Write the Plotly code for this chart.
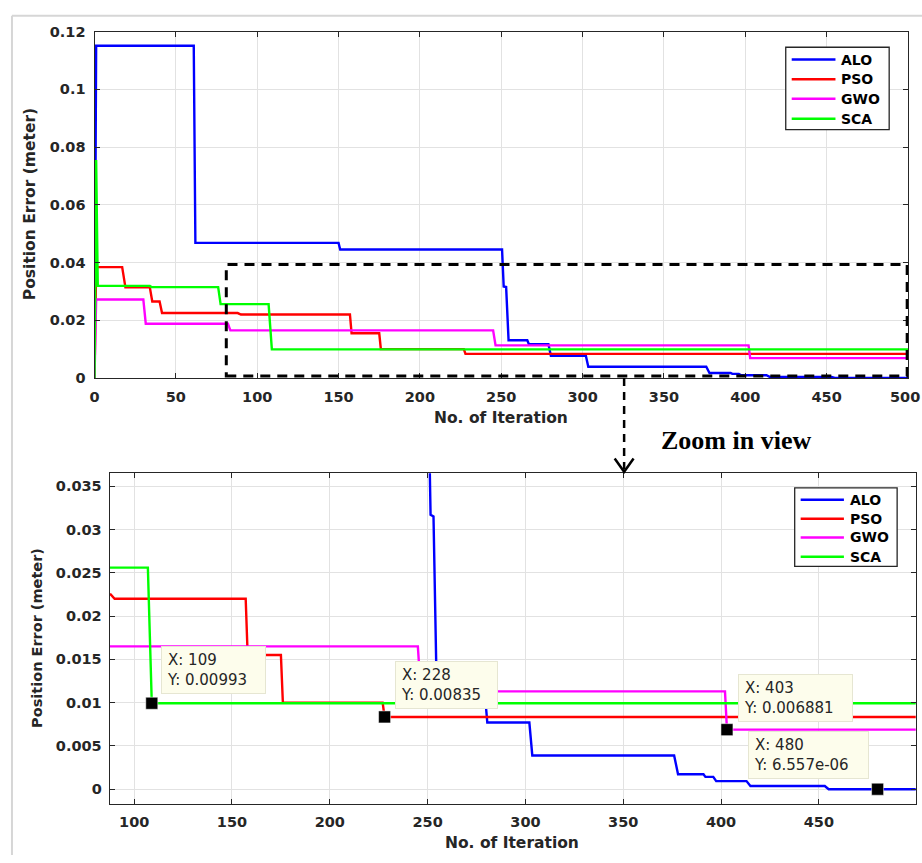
import plotly.graph_objects as go

# ---------------- data (vertices) ----------------
alo_x = [0, 1, 61, 62, 150, 151, 250.5, 251.5, 253, 254.5, 266, 267, 279, 280.5,
         302, 303.5, 376, 378, 391, 392, 396, 397.5, 413, 415, 453, 455, 500]
alo_y = [0, 0.1151, 0.1151, 0.0468, 0.0468, 0.0445, 0.0445, 0.0317, 0.0315, 0.0131,
         0.0131, 0.0117, 0.0117, 0.0077, 0.0077, 0.0039, 0.0039, 0.00174, 0.00174,
         0.00143, 0.00143, 0.00094, 0.00094, 0.00038, 0.00038, 6.557e-06, 6.557e-06]

pso_x = [0, 1, 17, 19, 34, 35.5, 40, 41.5, 88, 90, 157, 158, 175, 176, 227, 228, 500]
pso_y = [0, 0.0384, 0.0384, 0.0314, 0.0314, 0.0265, 0.0265, 0.0225, 0.0225, 0.0220,
         0.0220, 0.0155, 0.0155, 0.0100, 0.0100, 0.00835, 0.00835]

gwo_x = [0, 1, 30, 31.5, 82, 83.5, 245, 246.5, 402, 403, 500]
gwo_y = [0, 0.0272, 0.0272, 0.0188, 0.0188, 0.0165, 0.0165, 0.0113, 0.0113,
         0.006881, 0.006881]

sca_x = [0, 1, 2, 34, 35, 76, 77.5, 107, 109, 500]
sca_y = [0, 0.0755, 0.0319, 0.0319, 0.0315, 0.0315, 0.0256, 0.0256, 0.00993, 0.00993]

series_names = ["ALO", "PSO", "GWO", "SCA"]
series_x = [alo_x, pso_x, gwo_x, sca_x]
series_y = [alo_y, pso_y, gwo_y, sca_y]
series_colors = ["#0000FF", "#FF0000", "#FF00FF", "#00FF00"]

# tick values of the upper chart's x axis
top_xticks = [0, 50, 100, 150, 200, 250, 300, 350, 400, 450, 500]

# data tips shown in the zoomed view
tip_x = [109, 228, 403, 480]
tip_y = [0.00993, 0.00835, 0.006881, 6.557e-06]

# zoomed region marked on the upper chart
zoom_x = [81, 499.5]
zoom_y = [0.0007, 0.0393]

# ---------------- layout helpers (pixel -> paper) ----------------
W, H = 922, 863
def PX(x):
    return x / W
def PY(y):
    return 1 - y / H

TXT = "#262626"
TICKFONT = dict(family="DejaVu Sans", size=14.5, color=TXT, weight="bold")
TITLEFONT = dict(family="DejaVu Sans", size=15.5, color=TXT, weight="bold")
LEGFONT = dict(family="DejaVu Sans", size=14, color="black", weight="bold")

fig = go.Figure()

for i in range(4):
    fig.add_trace(go.Scatter(
        x=series_x[i], y=series_y[i], mode="lines", name=series_names[i],
        line=dict(color=series_colors[i], width=2.4), showlegend=False,
        xaxis="x", yaxis="y", hoverinfo="skip"))
for i in range(4):
    fig.add_trace(go.Scatter(
        x=series_x[i], y=series_y[i], mode="lines", name=series_names[i],
        line=dict(color=series_colors[i], width=2.4), showlegend=False,
        xaxis="x2", yaxis="y2", hoverinfo="skip"))

fig.add_trace(go.Scatter(
    x=tip_x, y=tip_y, mode="markers", showlegend=False,
    marker=dict(symbol="square", size=12, color="black",
                line=dict(color="white", width=0.5)),
    xaxis="x2", yaxis="y2", hoverinfo="skip"))

axis_common = dict(
    showline=True, linecolor=TXT, linewidth=1.2, mirror="ticks",
    ticks="inside", ticklen=5, tickcolor=TXT, tickwidth=1,
    showgrid=True, gridcolor="#e2e2e2", gridwidth=1,
    zeroline=False, tickfont=TICKFONT,
)

# the last label ("500") sits on the page edge; it is drawn separately so it stays inside
top_xtext = [str(v) for v in top_xticks[:-1]] + [""]

fig.update_layout(
    width=W, height=H,
    margin=dict(l=0, r=0, t=0, b=0),
    paper_bgcolor="white", plot_bgcolor="white",
    showlegend=False,
    xaxis=dict(domain=[PX(90), PX(908)], anchor="y", range=[0, 500.05],
               tickmode="array", tickvals=top_xticks, ticktext=top_xtext,
               ticklabelstandoff=5, **axis_common),
    yaxis=dict(domain=[PY(377), PY(24)], anchor="x", range=[0, 0.12001],
               tick0=0, dtick=0.02, ticklabelstandoff=5, **axis_common),
    xaxis2=dict(domain=[PX(105.3), PX(915.7)], anchor="y2", range=[87.5, 499.5],
                tick0=0, dtick=50, ticklabelstandoff=5, **axis_common),
    yaxis2=dict(domain=[PY(811), PY(474)], anchor="x2", range=[-0.0017, 0.0365],
                tick0=0, dtick=0.005, ticklabelstandoff=4, **axis_common),
)

shapes = []
ann = []

# outer light frame
shapes.append(dict(type="line", xref="paper", yref="paper", x0=PX(7), x1=PX(7),
                   y0=PY(8), y1=PY(863), line=dict(color="#d6d6d6", width=2)))
shapes.append(dict(type="line", xref="paper", yref="paper", x0=PX(7), x1=PX(922),
                   y0=PY(8), y1=PY(8), line=dict(color="#d6d6d6", width=2)))
# dashed zoom rectangle
shapes.append(dict(type="rect", xref="x", yref="y", x0=zoom_x[0], x1=zoom_x[1],
                   y0=zoom_y[0], y1=zoom_y[1],
                   line=dict(color="black", width=3, dash="10px,7px")))
# dashed arrow from the rectangle down to the zoomed chart
shapes.append(dict(type="line", xref="paper", yref="paper", x0=PX(622.5), x1=PX(622.5),
                   y0=PY(377), y1=PY(470),
                   line=dict(color="black", width=2.5, dash="8px,6px")))
shapes.append(dict(type="path", xref="paper", yref="paper",
                   path=f"M {PX(613)},{PY(459)} L {PX(622.5)},{PY(472.5)} L {PX(632)},{PY(459)}",
                   line=dict(color="black", width=2.5)))

# legends (box left/top/right/bottom, line x0/x1, text x, row y positions), in px
legend_specs = [
    dict(box=(785, 40, 889, 124), line=(791, 835), tx=839, rows=(52.5, 72.5, 92.5, 112.8)),
    dict(box=(794, 489, 897, 569), line=(800, 843.5), tx=847.5, rows=(501, 520.5, 539.5, 559)),
]
for spec in legend_specs:
    bx0, by0, bx1, by1 = spec["box"]
    shapes.append(dict(type="rect", xref="paper", yref="paper",
                       x0=PX(bx0), x1=PX(bx1), y0=PY(by1), y1=PY(by0),
                       fillcolor="white", line=dict(color=TXT, width=1.3)))
    for name, col, ry in zip(series_names, series_colors, spec["rows"]):
        shapes.append(dict(type="line", xref="paper", yref="paper",
                           x0=PX(spec["line"][0]), x1=PX(spec["line"][1]),
                           y0=PY(ry), y1=PY(ry), line=dict(color=col, width=2.5)))
        ann.append(dict(text=name, xref="paper", yref="paper", x=PX(spec["tx"]), y=PY(ry),
                        xanchor="left", yanchor="middle", showarrow=False, font=LEGFONT))

fig.update_layout(shapes=shapes)

# last tick label of the upper x axis, kept inside the page edge
ann.append(dict(text=str(top_xticks[-1]), xref="paper", yref="paper",
                x=PX(921.5), y=PY(396), xanchor="right", yanchor="middle",
                showarrow=False, font=TICKFONT))

# axis titles
ann.append(dict(text="No. of Iteration", xref="paper", yref="paper",
                x=PX(499), y=PY(418), xanchor="center", yanchor="middle",
                showarrow=False, font=TITLEFONT))
ann.append(dict(text="No. of Iteration", xref="paper", yref="paper",
                x=PX(510), y=PY(851), xanchor="center", yanchor="middle",
                showarrow=False, font=TITLEFONT))
ann.append(dict(text="Position Error (meter)", xref="paper", yref="paper",
                x=PX(25), y=PY(200), xanchor="center", yanchor="middle",
                showarrow=False, textangle=-90, font=TITLEFONT))
ann.append(dict(text="Position Error (meter)", xref="paper", yref="paper",
                x=PX(32), y=PY(642), xanchor="center", yanchor="middle",
                showarrow=False, textangle=-90, font=dict(TITLEFONT, size=14.5)))
# zoom label
ann.append(dict(text="Zoom in view", xref="paper", yref="paper", x=PX(735), y=PY(441),
                xanchor="center", yanchor="middle", showarrow=False,
                font=dict(family="Liberation Serif", size=26, color="black", weight="bold")))

# data-tip boxes (left, top, width in px)
tip_boxes = [(156.7, 650, 105), (391.7, 665, 103), (736.7, 678.3, 115), (746.7, 737, 121)]
for (bx, by, bw), xv, yv in zip(tip_boxes, tip_x, tip_y):
    ann.append(dict(
        text=f"X: {xv}<br>Y: {yv:.4g}", xref="paper", yref="paper",
        x=PX(bx), y=PY(by), xanchor="left", yanchor="top", align="left",
        showarrow=False, bgcolor="#FDFDEC", bordercolor="#E6E6D2", borderwidth=1,
        borderpad=5, width=bw - 12, height=36,
        font=dict(family="DejaVu Sans", size=15, color=TXT)))
fig.update_layout(annotations=ann)

fig.write_html("out.html",
               post_script="document.body.style.margin='0';document.documentElement.style.margin='0';")
